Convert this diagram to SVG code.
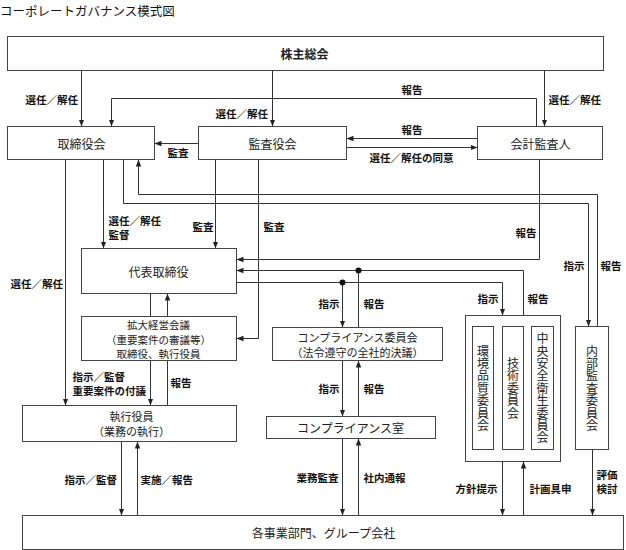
<svg xmlns="http://www.w3.org/2000/svg" width="626" height="550" viewBox="0 0 626 550">
<defs>
<marker id="ah" markerUnits="userSpaceOnUse" markerWidth="7" markerHeight="6" refX="7" refY="3" orient="auto">
<path d="M0,0.3 L7,3 L0,5.7 z" fill="#222"/>
</marker>
<style>
.box{fill:#fff;stroke:#444;stroke-width:1}
.c{fill:none;stroke:#333;stroke-width:1}
.a{marker-end:url(#ah)}
.t{font-family:"Noto Sans CJK JP",sans-serif;font-size:12px;fill:#222;text-anchor:middle;dominant-baseline:central}
.m{font-size:11px}
.s{font-size:10.5px}
.tb{font-weight:bold}
.l{font-family:"Noto Sans CJK JP",sans-serif;font-size:10.5px;font-weight:bold;fill:#111;dominant-baseline:central}
.v{font-family:"Noto Sans CJK JP",sans-serif;font-size:12px;fill:#222;writing-mode:vertical-rl;text-anchor:middle;letter-spacing:0.4px}
.dot{fill:#111}
</style>
</defs>
<rect width="626" height="550" fill="#fff"/>
<text x="0" y="10" style="font-family:'Noto Sans CJK JP',sans-serif;font-size:12.5px;fill:#111;dominant-baseline:central">コーポレートガバナンス模式図</text>
<g transform="translate(0.5 0.5)">
<g id="connectors">
<path class="c a" d="M81,70 V126"/>
<path class="c a" d="M272,70 V126"/>
<path class="c a" d="M544,70 V126"/>
<path class="c a" d="M536,126 V98 H111 V126"/>
<path class="c a" d="M198,143 H154"/>
<path class="c a" d="M477,138 H346"/>
<path class="c a" d="M346,147 H477"/>
<path class="c a" d="M65,159 V405"/>
<path class="c a" d="M103,159 V248"/>
<path class="c a" d="M123,159 V203 H588 V326"/>
<path class="c a" d="M597,326 V194 H138 V159"/>
<path class="c a" d="M215,159 V248"/>
<path class="c a" d="M258,159 V338 H236"/>
<path class="c a" d="M539,159 V259 H236"/>
<path class="c a" d="M523,315 V270 H236"/>
<path class="c a" d="M236,282 H502 V315"/>
<path class="c a" d="M342,282 V327"/>
<path class="c" d="M358,327 V270"/>
<circle class="dot" cx="342" cy="282" r="3"/>
<circle class="dot" cx="358" cy="270" r="3"/>
<path class="c a" d="M342,360 V416"/>
<path class="c a" d="M358,416 V360"/>
<path class="c a" d="M342,438 V515"/>
<path class="c a" d="M358,515 V438"/>
<path class="c a" d="M150,293 V405"/>
<path class="c a" d="M167,405 V293"/>
<path class="c a" d="M121,441 V515"/>
<path class="c a" d="M137,515 V441"/>
<path class="c a" d="M502,461 V515"/>
<path class="c a" d="M523,515 V461"/>
<path class="c a" d="M592,449 V515"/>
</g>
<g id="labels">
<text class="l" x="25" y="99">選任／解任</text>
<text class="l" x="215" y="113">選任／解任</text>
<text class="l" x="548" y="99">選任／解任</text>
<text class="l" x="401" y="89">報告</text>
<text class="l" x="167" y="152">監査</text>
<text class="l" x="401" y="129">報告</text>
<text class="l" x="369" y="157">選任／解任の同意</text>
<text class="l" x="10" y="283">選任／解任</text>
<text class="l" x="108" y="219.5">選任／解任</text>
<text class="l" x="108" y="233.5">監督</text>
<text class="l" x="192" y="226">監査</text>
<text class="l" x="263" y="226">監査</text>
<text class="l" x="515" y="232">報告</text>
<text class="l" x="563" y="265">指示</text>
<text class="l" x="600" y="265">報告</text>
<text class="l" x="318" y="303">指示</text>
<text class="l" x="363" y="303">報告</text>
<text class="l" x="477" y="298">指示</text>
<text class="l" x="527" y="298">報告</text>
<text class="l" x="72" y="375.5">指示／監督</text>
<text class="l" x="72" y="389.5">重要案件の付議</text>
<text class="l" x="170" y="382">報告</text>
<text class="l" x="318" y="388">指示</text>
<text class="l" x="363" y="388">報告</text>
<text class="l" x="64" y="479">指示／監督</text>
<text class="l" x="140" y="479">実施／報告</text>
<text class="l" x="296" y="477">業務監査</text>
<text class="l" x="363" y="477">社内通報</text>
<text class="l" x="455" y="488">方針提示</text>
<text class="l" x="529" y="488">計画具申</text>
<text class="l" x="596" y="473.5">評価</text>
<text class="l" x="596" y="487.5">検討</text>
</g>
<g id="shareholders">
<rect class="box" x="7" y="36" width="596" height="34"/>
<text class="t tb" x="304" y="53">株主総会</text>
</g>
<g id="board">
<rect class="box" x="7" y="126" width="147" height="33"/>
<text class="t" x="81" y="143">取締役会</text>
</g>
<g id="auditors">
<rect class="box" x="198" y="126" width="148" height="33"/>
<text class="t" x="272" y="143">監査役会</text>
</g>
<g id="accounting-auditor">
<rect class="box" x="477" y="126" width="125" height="33"/>
<text class="t" x="540" y="143">会計監査人</text>
</g>
<g id="representative">
<rect class="box" x="81" y="248" width="155" height="45"/>
<text class="t" x="158" y="271">代表取締役</text>
</g>
<g id="management-meeting">
<rect class="box" x="81" y="316" width="155" height="44"/>
<text class="t s" x="158" y="323.5">拡大経営会議</text>
<text class="t s" x="158" y="338.5">（重要案件の審議等）</text>
<text class="t s" x="158" y="353">取締役、執行役員</text>
</g>
<g id="executive-officers">
<rect class="box" x="22" y="405" width="214" height="36"/>
<text class="t m" x="131" y="415.5">執行役員</text>
<text class="t m" x="131" y="430.5">（業務の執行）</text>
</g>
<g id="compliance-committee">
<rect class="box" x="272" y="327" width="170" height="33"/>
<text class="t m" x="357" y="336">コンプライアンス委員会</text>
<text class="t m" x="357" y="351">（法令遵守の全社的決議）</text>
</g>
<g id="compliance-office">
<rect class="box" x="266" y="416" width="169" height="22"/>
<text class="t" x="350" y="427">コンプライアンス室</text>
</g>
<g id="committees">
<rect class="box" x="465" y="315" width="95" height="146"/>
<rect class="box" x="472" y="326" width="21" height="123"/>
<text class="v" x="482.5" y="388">環境品質委員会</text>
<rect class="box" x="502" y="326" width="21" height="123"/>
<text class="v" x="512.5" y="388">技術委員会</text>
<rect class="box" x="531" y="326" width="22" height="123"/>
<text class="v" x="542" y="388">中央安全衛生委員会</text>
</g>
<g id="internal-audit">
<rect class="box" x="575" y="326" width="33" height="123"/>
<text class="v" x="591.5" y="388">内部監査委員会</text>
</g>
<g id="business-units">
<rect class="box" x="22" y="515" width="601" height="34"/>
<text class="t" x="323" y="532">各事業部門、グループ会社</text>
</g>
</g>
</svg>
